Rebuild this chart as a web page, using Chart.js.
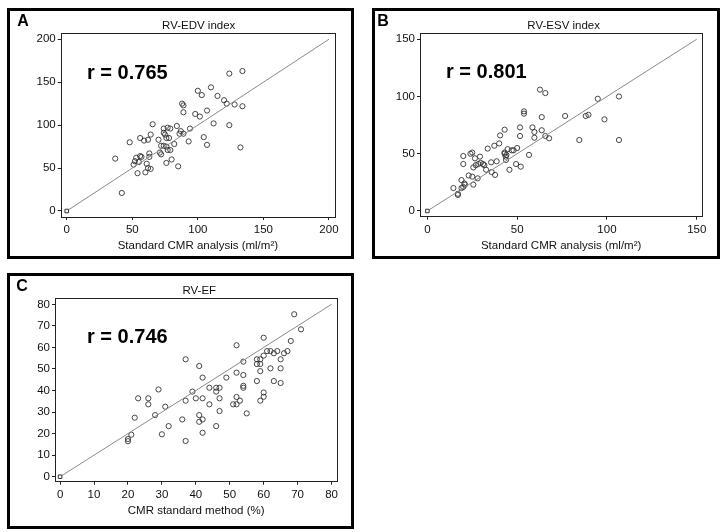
<!DOCTYPE html>
<html lang="en">
<head>
    <meta charset="UTF-8">
    <title>RV volumes: new method vs standard CMR analysis</title>
    <script src="https://cdn.jsdelivr.net/npm/chart.js@4.4.0/dist/chart.umd.min.js"></script>
    <style>
        body {
            margin: 0;
            width: 728px;
            height: 532px;
            background: #fff;
            position: relative;
            overflow: hidden;
            font-family: 'Liberation Sans', Arial, sans-serif;
        }

        .panel {
            position: absolute;
            box-sizing: border-box;
            border: 3px solid #000;
        }

        .panel canvas {
            position: absolute;
            left: 0;
            top: 0;
        }

        .letter {
            position: absolute;
            font-weight: bold;
            font-size: 16px;
            transform: translate(-50%, -50%);
        }

        .title {
            position: absolute;
            font-size: 11.5px;
            color: #111;
            white-space: nowrap;
            transform: translate(-50%, -50%);
        }

        .rval {
            position: absolute;
            font-weight: bold;
            font-size: 20px;
            white-space: nowrap;
            transform: translateY(-50%);
        }
    </style>
</head>
<body>
    <div class="panel" style="left:7px; top:8px; width:347px; height:251px;">
        <canvas id="chartA" width="341" height="245"></canvas>
        <div class="letter" style="left:13px; top:9.5px;">A</div>
        <div class="title" style="left:188.7px; top:14px;">RV-EDV index</div>
        <div class="rval" style="left:77px; top:61px;">r = 0.765</div>
    </div>
    <div class="panel" style="left:372px; top:8px; width:348px; height:251px;">
        <canvas id="chartB" width="342" height="245"></canvas>
        <div class="letter" style="left:8px; top:9.5px;">B</div>
        <div class="title" style="left:188.7px; top:14px;">RV-ESV index</div>
        <div class="rval" style="left:71px; top:60px;">r = 0.801</div>
    </div>
    <div class="panel" style="left:7px; top:273px; width:347px; height:256px;">
        <canvas id="chartC" width="341" height="250"></canvas>
        <div class="letter" style="left:12px; top:9.5px;">C</div>
        <div class="title" style="left:189.3px; top:14px;">RV-EF</div>
        <div class="rval" style="left:77px; top:59.7px;">r = 0.746</div>
    </div>

    <script>
        // A: RV-EDV index (ml/m2)
        const edvStandard = [37, 42, 48, 51, 52, 53, 54, 55, 56, 56, 57, 59, 60, 61, 62, 62, 63, 63, 64, 64,
            65.5, 70, 71, 72, 72, 74, 74, 74, 75, 76, 76, 76, 77, 77, 78, 79, 79, 80, 82, 84,
            85, 86, 87, 88, 89, 89, 89, 93, 94, 98, 100, 101.5, 103, 104.5, 107, 107, 110, 112, 115, 120,
            122, 124, 124, 128, 132.5, 134, 134];
        const edvNew = [61, 21, 80, 54, 58, 62, 44, 57, 85, 64, 63, 82, 45, 55, 50, 83, 63, 67, 49, 89,
            101, 83, 68, 76, 66, 96, 76, 91, 89, 85, 56, 75, 71, 97, 85, 71, 96, 60, 78, 99,
            52, 90, 93, 125, 115, 123, 90, 81, 96, 113, 140, 110, 135, 86, 117, 77, 144, 102, 134, 129,
            125, 100, 160, 124, 74, 163, 122];

        // B: RV-ESV index (ml/m2)
        const esvStandard = [14.5, 17, 17, 19, 19, 20, 20, 20, 20.6, 21, 23, 24, 25, 25, 25.6, 25.6, 26.5, 27, 28, 28.4,
            29.3, 29.7, 31, 31.7, 32.7, 33.6, 35.5, 35.8, 37.3, 37.7, 38.6, 40, 40.5, 43, 43, 43, 43.6, 43.8, 44, 44.7,
            45.7, 47, 48, 49.4, 50, 51.6, 51.6, 52, 53.8, 53.8, 56.6, 58.5, 59.6, 59.6, 62.7, 63.7, 63.7, 65.7, 65.7, 67.8,
            76.7, 84.6, 88.2, 89.7, 94.9, 98.6, 106.7, 106.7];
        const esvNew = [20, 15, 14, 27, 20, 48, 41, 21, 24, 23, 31, 50, 51, 30, 23, 38, 46, 40, 28.5, 41,
            47.5, 42, 41, 40, 36, 54.5, 42.5, 34, 57, 31.5, 43.4, 59, 66, 71, 51, 50, 47.5, 44.6, 49, 54,
            36, 53, 53, 41, 55, 73, 65.5, 38.7, 87, 85, 49, 73, 69, 64, 106, 70.5, 82, 103, 65.5, 63.5,
            83, 62, 83, 84, 98, 80, 100, 62];

        // C: RV-EF (%)
        const efStandard = [20, 20, 21, 22, 23, 26, 26, 28, 29, 30, 31, 32, 36, 37, 37, 37, 39, 40, 41, 41,
            41, 42, 42, 42, 42, 44, 44, 46, 46, 46, 47, 47, 47, 49, 51, 52, 52, 52, 52, 53,
            54, 54, 54, 54, 55, 58, 58, 58, 59, 59, 59, 59, 60, 60, 60, 60, 61, 62, 62, 63,
            63, 64, 65, 65, 65, 66, 67, 68, 69, 71];
        const efNew = [16.5, 17.5, 19.5, 27.4, 36.4, 36.4, 33.6, 28.6, 40.5, 19.7, 32.5, 23.5, 26.6, 54.5, 35.3, 16.6, 39.5, 36.4, 51.4, 28.6,
            25.5, 46, 36.4, 26.6, 20.4, 41.3, 33.6, 41.3, 39.5, 23.5, 41.3, 36.4, 30.5, 46, 33.6, 33.6, 37, 48.3, 61, 35.3,
            53.4, 47.2, 42.2, 41.3, 29.4, 54.5, 52.3, 44.4, 54.5, 52.3, 49, 35.3, 64.5, 56.2, 39.1, 37.1, 58.3, 58.3, 50.3, 57.3,
            44.4, 58.3, 54.5, 50.3, 43.5, 57.3, 58.3, 63, 75.4, 68.4];

        // line of identity, axis ticks
        const identityA = [0, 200];
        const identityB = [0, 150];
        const identityC = [0, 80];
        const ticksA = [0, 50, 100, 150, 200];
        const ticksB = [0, 50, 100, 150];
        const ticksC = [0, 10, 20, 30, 40, 50, 60, 70, 80];

        const framePlugin = {
            id: 'frame',
            afterDatasetsDraw(chart) {
                const a = chart.chartArea;
                const ctx = chart.ctx;
                ctx.save();
                ctx.strokeStyle = '#222';
                ctx.lineWidth = 1;
                ctx.strokeRect(Math.round(a.left) + 0.5, Math.round(a.top) + 0.5,
                    Math.round(a.right - a.left), Math.round(a.bottom - a.top));
                ctx.restore();
            }
        };

        const tickFont = { family: "'Liberation Sans', Arial, sans-serif", size: 11.5 };

        function makePanel(id, o) {
            const points = o.xs.map((x, i) => ({ x: x, y: o.ys[i] }));
            const line = o.line.map(v => ({ x: v, y: v }));
            const setTicks = list => scale => { scale.ticks = list.map(v => ({ value: v })); };

            return new Chart(document.getElementById(id), {
                type: 'scatter',
                data: {
                    datasets: [
                        {
                            data: line,
                            showLine: true,
                            borderColor: '#8a8a8a',
                            borderWidth: 1,
                            pointStyle: 'rect',
                            pointRadius: [2.5, 0],
                            pointBackgroundColor: '#fff',
                            pointBorderColor: '#333',
                            pointBorderWidth: 1
                        },
                        {
                            data: points,
                            pointRadius: 2.6,
                            pointBorderWidth: 0.9,
                            pointBorderColor: '#333',
                            pointBackgroundColor: 'rgba(255,255,255,0)'
                        }
                    ]
                },
                options: {
                    responsive: false,
                    animation: false,
                    devicePixelRatio: 1,
                    layout: {
                        padding: { left: 0, top: o.top, right: o.right, bottom: 0 }
                    },
                    plugins: {
                        legend: { display: false },
                        tooltip: { enabled: false }
                    },
                    scales: {
                        x: {
                            type: 'linear',
                            min: o.xMin,
                            max: o.xMax,
                            afterBuildTicks: setTicks(o.ticks),
                            afterFit: s => { s.height = o.bottom; },
                            grid: { drawOnChartArea: false, drawTicks: true, tickLength: 3, color: '#222' },
                            border: { display: false },
                            ticks: { font: tickFont, color: '#111', padding: 3, maxRotation: 0 },
                            title: {
                                display: true,
                                text: o.xTitle,
                                font: tickFont,
                                color: '#111',
                                padding: { top: 0, bottom: o.titlePad }
                            }
                        },
                        y: {
                            type: 'linear',
                            min: o.yMin,
                            max: o.yMax,
                            afterBuildTicks: setTicks(o.ticks),
                            afterFit: s => { s.width = o.left; },
                            grid: { drawOnChartArea: false, drawTicks: true, tickLength: 3, color: '#222' },
                            border: { display: false },
                            ticks: { font: tickFont, color: '#111', padding: 2 }
                        }
                    }
                },
                plugins: [framePlugin]
            });
        }

        makePanel('chartA', {
            xs: edvStandard, ys: edvNew, line: identityA, ticks: ticksA,
            xMin: -4.6, xMax: 204.6, yMin: -7, yMax: 207.3,
            left: 50.7, top: 22, right: 16, bottom: 39, titlePad: 3,
            xTitle: 'Standard CMR analysis (ml/m²)'
        });

        makePanel('chartB', {
            xs: esvStandard, ys: esvNew, line: identityB, ticks: ticksB,
            xMin: -4.1, xMax: 153.1, yMin: -5, yMax: 155.2,
            left: 45, top: 22.3, right: 14.7, bottom: 39.3, titlePad: 3,
            xTitle: 'Standard CMR analysis (ml/m²)'
        });

        makePanel('chartC', {
            xs: efStandard, ys: efNew, line: identityC, ticks: ticksC,
            xMin: -1.5, xMax: 81.7, yMin: -2.3, yMax: 82.8,
            left: 45, top: 22.3, right: 13.7, bottom: 44.3, titlePad: 8,
            xTitle: 'CMR standard method (%)'
        });
    </script>
</body>
</html>
